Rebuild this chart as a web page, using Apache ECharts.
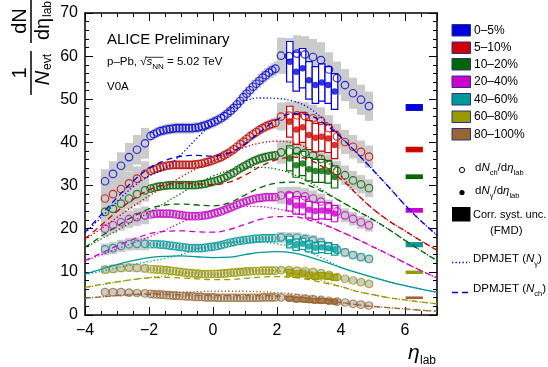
<!DOCTYPE html>
<html><head><meta charset="utf-8">
<script src="https://cdn.jsdelivr.net/npm/echarts@6/dist/echarts.min.js"></script>
<style>html,body{margin:0;padding:0;background:#fff}#c{width:548px;height:367px}</style>
</head><body><div id="c"></div>
<script>
const FONT = '"Liberation Sans", Arial, Helvetica, sans-serif';
const centralities = ['0–5%','5–10%','10–20%','20–40%','40–60%','60–80%','80–100%'];
const colors = ['#0000dd','#cc0000','#006600','#cc00cc','#009999','#999900','#996633'];

// eta bin centres
const etaBack = [-3.375,-3.125,-2.875,-2.625,-2.375,-2.125];
const etaMid = [-1.95,-1.85,-1.75,-1.65,-1.55,-1.45,-1.35,-1.25,-1.15,-1.05,-0.95,-0.85,-0.75,-0.65,-0.55,-0.45,-0.35,-0.25,-0.15,-0.05,0.05,0.15,0.25,0.35,0.45,0.55,0.65,0.75,0.85,0.95,1.05,1.15,1.25,1.35,1.45,1.55,1.65,1.75,1.85,1.95];
const etaFwd = [2.125,2.375,2.625,2.875,3.125,3.375,3.625,3.875,4.125,4.375,4.625,4.875];
const etaGamma = [2.4,2.6,2.8,3.0,3.2,3.4,3.6,3.8];
const etaModel = [-4,-3.5,-3,-2.5,-2,-1.5,-1,-0.5,0,0.5,1,1.5,2,2.5,3,3.5,4,4.5,5,5.5,6,6.5,7];

// dNch/deta (open circles)
const ch0Back = [31.0,32.7,34.6,36.6,38.3,39.8];
const ch1Back = [27.0,28.0,29.2,30.5,31.6,32.7];
const ch2Back = [23.9,24.6,25.8,27.0,28.0,28.9];
const ch3Back = [20.0,20.8,21.5,22.2,22.7,23.1];
const ch4Back = [15.2,15.5,16.0,16.4,16.5,16.5];
const ch5Back = [10.5,10.7,10.9,11.0,10.9,10.8];
const ch6Back = [5.3,5.3,5.3,5.2,5.1,5.0];

const ch0Mid = [41.5,41.9,42.3,42.6,42.8,43.0,43.1,43.2,43.3,43.3,43.3,43.3,43.3,43.3,43.4,43.5,43.7,43.9,44.2,44.5,44.8,45.2,45.6,46.1,46.7,47.3,48.0,48.8,49.6,50.5,51.3,52.1,52.9,53.6,54.3,55.0,55.6,56.2,56.7,57.1];
const ch1Mid = [33.4,33.7,34.0,34.2,34.4,34.6,34.7,34.8,34.8,34.8,34.8,34.8,34.8,34.8,34.9,35.0,35.1,35.3,35.5,35.7,36.0,36.3,36.6,37.0,37.4,37.9,38.4,39.0,39.6,40.2,40.8,41.4,41.9,42.4,42.9,43.3,43.7,44.0,44.3,44.5];
const ch2Mid = [29.3,29.5,29.7,29.8,29.9,30.0,30.1,30.1,30.1,30.1,30.1,30.1,30.1,30.1,30.1,30.2,30.3,30.4,30.6,30.8,31.0,31.2,31.5,31.8,32.2,32.6,33.0,33.5,34.0,34.4,34.8,35.2,35.6,35.9,36.2,36.4,36.6,36.8,36.9,37.0];
const ch3Mid = [23.3,23.4,23.5,23.5,23.5,23.5,23.5,23.4,23.3,23.2,23.1,23.0,22.9,22.9,22.9,22.9,23.0,23.1,23.2,23.4,23.6,23.8,24.0,24.3,24.6,24.9,25.2,25.5,25.8,26.1,26.4,26.6,26.8,27.0,27.1,27.2,27.3,27.3,27.3,27.3];
const ch4Mid = [16.4,16.4,16.4,16.3,16.3,16.2,16.1,16.0,15.9,15.8,15.7,15.6,15.5,15.5,15.5,15.5,15.5,15.6,15.7,15.8,15.9,16.0,16.2,16.4,16.6,16.8,16.9,17.1,17.2,17.3,17.4,17.5,17.6,17.7,17.7,17.8,17.8,17.8,17.8,17.8];
const ch5Mid = [10.6,10.6,10.5,10.5,10.4,10.4,10.3,10.2,10.1,10.0,9.9,9.8,9.7,9.7,9.6,9.6,9.5,9.5,9.5,9.5,9.5,9.5,9.6,9.6,9.7,9.8,9.8,9.9,10.0,10.0,10.1,10.1,10.2,10.2,10.2,10.3,10.3,10.3,10.3,10.3];
const ch6Mid = [4.9,4.8,4.8,4.7,4.7,4.6,4.6,4.5,4.5,4.4,4.4,4.3,4.3,4.3,4.2,4.2,4.2,4.1,4.1,4.1,4.1,4.0,4.0,4.0,4.0,4.0,4.0,4.0,4.0,4.0,4.0,4.0,4.0,4.0,4.0,4.1,4.1,4.1,4.1,4.1];

const ch0Fwd = [60.1,60.0,60.6,60.4,59.8,59.1,56.9,54.9,53.3,51.4,49.9,48.4];
const ch1Fwd = [46.0,46.2,46.3,46.1,45.6,45.0,43.3,41.4,40.1,39.0,37.8,36.7];
const ch2Fwd = [37.7,37.9,38.0,37.6,37.0,36.2,34.8,33.4,32.4,31.2,30.3,29.4];
const ch3Fwd = [27.7,27.8,27.8,27.5,27.0,26.3,25.0,24.0,23.1,22.3,21.5,20.8];
const ch4Fwd = [18.0,17.9,17.9,17.6,17.3,16.8,15.9,15.1,14.5,13.9,13.4,13.0];
const ch5Fwd = [10.4,10.4,10.3,10.2,10.0,9.7,9.3,8.8,8.4,8.0,7.6,7.2];
const ch6Fwd = [4.1,4.0,3.9,3.8,3.7,3.5,3.3,3.1,2.9,2.6,2.4,2.2];

// dNgamma/deta (filled circles)
const gam0 = [58.7,56.4,57.2,54.4,53.3,53.9,53.3,51.8];
const gam1 = [44.8,43.0,43.5,41.7,41.1,41.3,40.9,39.4];
const gam2 = [36.3,34.7,35.1,33.8,33.4,33.4,33.2,32.0];
const gam3 = [26.2,25.4,25.4,24.4,24.1,24.2,24.1,23.5];
const gam4 = [16.9,16.3,16.5,15.9,15.6,15.7,15.5,15.1];
const gam5 = [9.8,9.5,9.6,9.2,9.0,9.1,9.0,8.7];
const gam6 = [3.8,3.6,3.6,3.4,3.3,3.3,3.2,3.1];

// DPMJET Nch (dashed) and Ngamma (dotted)
const dpmCh0 = [19.2,23.2,27.2,31.0,34.0,35.8,36.8,37.0,36.8,37.6,39.6,42.6,45.3,46.7,46.3,44.2,41.2,37.5,33.6,29.6,25.5,21.8,18.5];
const dpmGam0 = [19.0,22.6,26.3,29.7,32.2,34.0,37.2,41.0,44.6,47.6,49.6,50.3,50.2,49.6,48.0,45.0,41.2,37.5,33.6,29.6,25.5,21.8,18.5];
const dpmCh1 = [17.7,20.8,24.0,26.8,29.0,30.2,30.5,30.4,30.2,30.8,32.4,34.5,36.0,36.6,36.0,34.0,31.5,28.0,24.6,21.8,19.5,17.2,15.0];
const dpmGam1 = [17.5,20.0,22.6,25.2,27.6,29.8,32.0,34.0,35.7,37.4,38.9,39.9,40.3,39.9,38.5,36.0,32.3,28.0,24.6,21.8,19.5,17.2,15.0];
const dpmCh2 = [15.7,18.2,20.6,22.8,24.6,25.5,25.7,25.5,25.3,26.0,27.8,29.6,30.6,30.8,30.0,28.3,26.3,24.2,22.1,19.8,17.3,14.9,12.6];
const dpmGam2 = [15.6,17.6,19.6,21.7,23.8,26.0,28.2,30.4,32.2,33.5,34.1,34.2,33.8,32.6,30.8,28.6,26.3,24.2,22.1,19.8,17.3,14.9,12.6];
const dpmCh3 = [12.6,14.3,16.0,17.5,18.8,19.4,19.5,19.3,19.2,19.8,21.0,22.2,22.8,22.8,22.0,20.8,19.3,17.6,15.8,14.0,12.1,10.3,8.6];
const dpmGam3 = [12.5,13.9,15.3,16.7,18.1,19.7,21.4,23.0,24.2,24.9,25.2,25.1,24.6,23.8,22.6,21.0,19.3,17.6,15.8,14.0,12.1,10.3,8.6];
const dpmCh4 = [9.5,10.6,11.7,12.6,13.3,13.6,13.7,13.5,13.3,13.4,14.0,14.5,14.7,14.4,13.5,12.3,11.0,9.8,8.7,7.7,6.8,6.0,5.3];
const dpmGam4 = [9.4,10.1,10.9,11.7,12.4,13.1,14.0,15.3,16.3,16.8,17.0,16.9,16.5,15.8,14.6,12.9,11.0,9.8,8.7,7.7,6.8,6.0,5.3];
const dpmCh5 = [6.4,7.1,7.7,8.2,8.6,8.7,8.6,8.4,8.2,8.2,8.5,8.8,8.9,8.7,8.2,7.4,6.6,5.5,4.7,4.0,3.5,3.0,2.6];
const dpmGam5 = [6.3,7.0,7.6,8.2,8.7,9.1,9.6,10.0,10.3,10.5,10.6,10.5,10.2,9.7,8.9,7.8,6.6,5.5,4.7,4.0,3.5,3.0,2.6];
const dpmCh6 = [3.9,4.2,4.5,4.7,4.8,4.8,4.7,4.6,4.5,4.5,4.5,4.5,4.4,4.2,3.8,3.4,2.9,2.4,2.0,1.7,1.4,1.1,0.9];
const dpmGam6 = [3.9,4.2,4.5,4.8,5.0,5.2,5.3,5.4,5.5,5.5,5.5,5.4,5.2,4.9,4.4,3.8,2.9,2.4,2.0,1.7,1.4,1.1,0.9];

// correlated FMD systematic uncertainty boxes
const corrEta = [6.02, 6.56];
const corrLow = [47.3,37.7,31.5,23.7,15.7,9.5,3.7];
const corrHigh = [48.9,39.0,32.6,24.8,16.9,10.3,4.3];

const chBack = [ch0Back,ch1Back,ch2Back,ch3Back,ch4Back,ch5Back,ch6Back];
const chMid = [ch0Mid,ch1Mid,ch2Mid,ch3Mid,ch4Mid,ch5Mid,ch6Mid];
const chFwd = [ch0Fwd,ch1Fwd,ch2Fwd,ch3Fwd,ch4Fwd,ch5Fwd,ch6Fwd];
const gam = [gam0,gam1,gam2,gam3,gam4,gam5,gam6];
const dpmCh = [dpmCh0,dpmCh1,dpmCh2,dpmCh3,dpmCh4,dpmCh5,dpmCh6];
const dpmGam = [dpmGam0,dpmGam1,dpmGam2,dpmGam3,dpmGam4,dpmGam5,dpmGam6];

function pairs(xs, ys){ return xs.map((x,i)=>[x, ys[i]]); }
function boxes(xs, ys, hw, rel, minH){ return xs.map((x,i)=>{ const h=Math.max(ys[i]*rel, minH); return [x-hw, x+hw, ys[i]-h, ys[i]+h]; }); }
function rectRender(fill, stroke, lw){
  return function(params, api){
    const a = api.coord([api.value(0), api.value(3)]);
    const b = api.coord([api.value(1), api.value(2)]);
    return {type:'rect', shape:{x:a[0], y:a[1], width:b[0]-a[0], height:b[1]-a[1]},
      style:{fill:fill, stroke:stroke, lineWidth:lw}};
  };
}

const series = [];
for (let c=0;c<7;c++){
  const grey = [].concat(boxes(etaBack, chBack[c], 0.125, 0.09, 0.7),
                         boxes(etaMid, chMid[c], 0.05, 0.03, 0.5),
                         boxes(etaFwd, chFwd[c], 0.125, 0.07, 0.7));
  series.push({type:'custom', renderItem: rectRender('#cbcbcb', null, 0), data: grey, z:1, silent:true, encode:{x:[0,1], y:[2,3]}});
}
for (let c=0;c<7;c++){
  series.push({type:'custom', renderItem: rectRender(colors[c], null, 0), data:[[corrEta[0], corrEta[1], corrLow[c], corrHigh[c]]], z:2, silent:true, encode:{x:[0,1], y:[2,3]}});
}
for (let c=0;c<7;c++){
  series.push({type:'custom', renderItem: rectRender('#ffffff', colors[c], 1.2), data: boxes(etaGamma, gam[c], 0.1, 0.08, 0.5), z:3, silent:true, encode:{x:[0,1], y:[2,3]}});
}
for (let c=0;c<7;c++){
  series.push({type:'scatter', data: [].concat(pairs(etaBack, chBack[c]), pairs(etaMid, chMid[c]), pairs(etaFwd, chFwd[c])),
    symbol:'circle', symbolSize:7.5, itemStyle:{color:'rgba(255,255,255,0)', borderColor:colors[c], borderWidth:1.2}, z:4, silent:true});
}
for (let c=0;c<7;c++){
  series.push({type:'scatter', data: pairs(etaGamma, gam[c]), symbol:'circle', symbolSize:6.5, itemStyle:{color:colors[c]}, z:5, silent:true});
}
for (let c=0;c<7;c++){
  series.push({type:'line', data: pairs(etaModel, dpmGam[c]), showSymbol:false, smooth:0.4, z:6, silent:true,
    lineStyle:{color:colors[c], width:1.3, type:[1.3,2.2]}});
  series.push({type:'line', data: pairs(etaModel, dpmCh[c]), showSymbol:false, smooth:0.4, z:6, silent:true,
    lineStyle:{color:colors[c], width:1.3, type: c===4 ? 'solid' : [6,4]}});
}

const axisCommon = {
  axisLine:{onZero:false, lineStyle:{color:'#000', width:1.5}},
  axisTick:{inside:true, length:8, lineStyle:{color:'#000', width:1}},
  minorTick:{show:true, length:4, lineStyle:{color:'#000', width:1}},
  splitLine:{show:false}
};
const minusFmt = v => (v<0 ? '−' : '') + Math.abs(v);

const legendTexts = [];
const legendY = [24.5,42,58.5,76,93.5,111,128.5];
for (let c=0;c<7;c++){
  legendTexts.push({type:'rect', shape:{x:452, y:legendY[c], width:18.5, height:11.5}, style:{fill:colors[c], stroke:'#2e2e8a', lineWidth:1}});
  legendTexts.push({type:'text', x:474, y:legendY[c]+6, style:{text:centralities[c], font:'12px '+FONT, fill:'#000', verticalAlign:'middle'}});
}

const rich = {
  r:{fontSize:11.5, fontFamily:FONT, lineHeight:14, padding:[0,0,3,0], verticalAlign:'bottom'},
  i:{fontSize:11.5, fontFamily:FONT, fontStyle:'italic', lineHeight:14, padding:[0,0,3,0], verticalAlign:'bottom'},
  s:{fontSize:7.5, fontFamily:FONT, lineHeight:9, verticalAlign:'bottom'}
};

const graphics = [
  {type:'text', x:107, y:39.5, style:{text:'ALICE Preliminary', font:'15px '+FONT, fill:'#000', verticalAlign:'middle'}},
  {type:'text', x:107, y:58, style:{text:'{r|p–Pb, √}{i|s}{s|NN}{r| = 5.02 TeV}', rich:{
     r:{fontSize:11.5, fontFamily:FONT, lineHeight:13, padding:[0,0,3,0], verticalAlign:'bottom'},
     i:{fontSize:11.5, fontFamily:FONT, fontStyle:'italic', lineHeight:13, padding:[0,0,3,0], verticalAlign:'bottom'},
     s:{fontSize:8, fontFamily:FONT, lineHeight:9, verticalAlign:'bottom'}}, verticalAlign:'top', fill:'#000'}},
  {type:'line', shape:{x1:146, y1:57.3, x2:163.5, y2:57.3}, style:{stroke:'#000', lineWidth:0.8}},
  {type:'text', x:107, y:87.3, style:{text:'V0A', font:'11.5px '+FONT, fill:'#000', verticalAlign:'middle'}},
  // x-axis title
  {type:'text', x:408, y:353, style:{text:'η', font:'italic 21px '+FONT, fill:'#000', verticalAlign:'middle'}},
  {type:'text', x:420, y:361, style:{text:'lab', font:'12px '+FONT, fill:'#000', verticalAlign:'middle'}},
  // y-axis title (rotated)
  {type:'group', x:31, y:95, rotation:Math.PI/2, children:[
    {type:'line', shape:{x1:0, y1:0, x2:44, y2:0}, style:{stroke:'#000', lineWidth:1.5}},
    {type:'text', x:22, y:-11, style:{text:'1', font:'20px '+FONT, fill:'#000', align:'center', verticalAlign:'middle'}},
    {type:'text', x:17, y:12, style:{text:'N', font:'italic 20px '+FONT, fill:'#000', align:'center', verticalAlign:'middle'}},
    {type:'text', x:25, y:17, style:{text:'evt', font:'12px '+FONT, fill:'#000', align:'left', verticalAlign:'middle'}},
    {type:'line', shape:{x1:52, y1:0, x2:96, y2:0}, style:{stroke:'#000', lineWidth:1.5}},
    {type:'text', x:74, y:-11, style:{text:'dN', font:'20px '+FONT, fill:'#000', align:'center', verticalAlign:'middle'}},
    {type:'text', x:66, y:12, style:{text:'dη', font:'20px '+FONT, fill:'#000', align:'center', verticalAlign:'middle'}},
    {type:'text', x:78, y:17, style:{text:'lab', font:'12px '+FONT, fill:'#000', align:'left', verticalAlign:'middle'}}
  ]},
  // legend extras
  {type:'circle', shape:{cx:462, cy:170, r:2.6}, style:{fill:'none', stroke:'#000', lineWidth:1}},
  {type:'text', x:475, y:177, style:{text:'{r|d}{i|N}{s|ch}{r|/d}{i|η}{s|lab}', rich:rich, verticalAlign:'bottom', fill:'#000'}},
  {type:'circle', shape:{cx:462, cy:192.5, r:2.6}, style:{fill:'#000'}},
  {type:'text', x:475, y:200, style:{text:'{r|d}{i|N}{s|γ}{r|/d}{i|η}{s|lab}', rich:rich, verticalAlign:'bottom', fill:'#000'}},
  {type:'rect', shape:{x:452, y:207, width:18.5, height:14.5}, style:{fill:'#000'}},
  {type:'text', x:473, y:215, style:{text:'Corr. syst. unc.', font:'11px '+FONT, fill:'#000', verticalAlign:'middle'}},
  {type:'text', x:490, y:231, style:{text:'(FMD)', font:'11.5px '+FONT, fill:'#000', verticalAlign:'middle'}},
  {type:'line', shape:{x1:452, y1:262.5, x2:470, y2:262.5}, style:{stroke:'#0000dd', lineWidth:1.3, lineDash:[1.3,2.2]}},
  {type:'text', x:473, y:268, style:{text:'{r|DPMJET (}{i|N}{s|γ}{r|)}', rich:rich, verticalAlign:'bottom', fill:'#000'}},
  {type:'line', shape:{x1:452, y1:292.5, x2:470, y2:292.5}, style:{stroke:'#0000dd', lineWidth:1.3, lineDash:[6,4]}},
  {type:'text', x:473, y:298, style:{text:'{r|DPMJET (}{i|N}{s|ch}{r|)}', rich:rich, verticalAlign:'bottom', fill:'#000'}}
].concat(legendTexts);

const chart = echarts.init(document.getElementById('c'), null, {renderer:'canvas'});
chart.setOption({
  animation:false,
  backgroundColor:'#fff',
  textStyle:{fontFamily:FONT},
  grid:{left:85, right:111, top:13, bottom:52, containLabel:false},
  xAxis:[
    Object.assign({type:'value', min:-4, max:7, interval:2, position:'bottom',
      axisLabel:{fontSize:16, color:'#000', margin:8, formatter:minusFmt, showMaxLabel:false}}, axisCommon,
      {minorTick:{show:true, splitNumber:4, length:4, lineStyle:{color:'#000', width:1}}}),
    Object.assign({type:'value', min:-4, max:7, interval:2, position:'top', axisLabel:{show:false}}, axisCommon,
      {minorTick:{show:true, splitNumber:4, length:4, lineStyle:{color:'#000', width:1}}})
  ],
  yAxis:[
    Object.assign({type:'value', min:0, max:70, interval:10, position:'left',
      axisLabel:{fontSize:16, color:'#000', margin:7}}, axisCommon,
      {minorTick:{show:true, splitNumber:5, length:4, lineStyle:{color:'#000', width:1}}}),
    Object.assign({type:'value', min:0, max:70, interval:10, position:'right', axisLabel:{show:false}}, axisCommon,
      {minorTick:{show:true, splitNumber:5, length:4, lineStyle:{color:'#000', width:1}}})
  ],
  series: series,
  graphic: graphics
});
</script></body></html>
